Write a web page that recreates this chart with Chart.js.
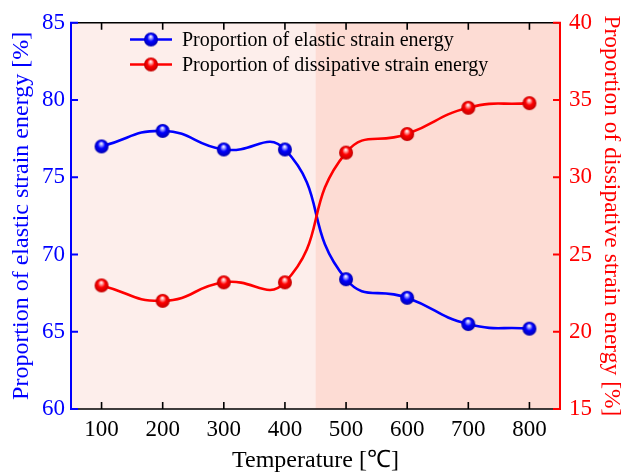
<!DOCTYPE html>
<html>
<head>
<meta charset="utf-8">
<script src="https://cdn.jsdelivr.net/npm/chart.js@4/dist/chart.umd.min.js"></script>
<style>
  html, body { margin: 0; padding: 0; background: #ffffff; }
  canvas { display: block; }
</style>
</head>
<body>
<canvas id="c" width="623" height="475"></canvas>
<script>
// ---- Data ----
const temperatures = [100, 200, 300, 400, 500, 600, 700, 800];
const elasticShare = [77.0, 78.0, 76.8, 76.8, 68.4, 67.2, 65.5, 65.2];
const dissipativeShare = [23.0, 22.0, 23.2, 23.2, 31.6, 32.8, 34.5, 34.8];
const leftTicks = [60, 65, 70, 75, 80, 85];
const rightTicks = [15, 20, 25, 30, 35, 40];
const seriesNames = ['Proportion of elastic strain energy', 'Proportion of dissipative strain energy'];
const shadeBands = [[50, 450], [450, 850]];

const BLUE = '#0000ff';
const RED = '#ff0000';
const SERIF = "'Liberation Serif', 'Times New Roman', serif";

function sphere(base, light, dark, r) {
  const s = Math.ceil(r * 2 + 2);
  const cv = document.createElement('canvas');
  cv.width = s; cv.height = s;
  const g = cv.getContext('2d');
  const cx = s / 2, cy = s / 2;
  const grad = g.createRadialGradient(cx - 0.3, cy - r * 0.45, 0.2, cx, cy, r);
  grad.addColorStop(0, '#ffffff');
  grad.addColorStop(0.22, light);
  grad.addColorStop(0.5, base);
  grad.addColorStop(1, dark);
  g.fillStyle = grad;
  g.beginPath(); g.arc(cx, cy, r, 0, Math.PI * 2); g.fill();
  return cv;
}
const blueBall = sphere(BLUE, '#9a9aff', '#0000b0', 7);
const redBall = sphere(RED, '#ff9a9a', '#c00000', 7);

const framePlugin = {
  id: 'frame',
  beforeDatasetsDraw(chart) {
    const {ctx, chartArea: a, scales} = chart;
    const x = scales.x;
    const fills = ['#fdeeeb', '#fddcd4'];
    ctx.save();
    shadeBands.forEach((b, i) => {
      const x0 = x.getPixelForValue(b[0]);
      const x1 = x.getPixelForValue(b[1]);
      ctx.fillStyle = fills[i];
      ctx.fillRect(x0, a.top, x1 - x0, a.bottom - a.top);
    });
    ctx.restore();
  },
  afterDatasetsDraw(chart) {
    const {ctx, chartArea: a, scales} = chart;
    const TL = 7;
    ctx.save();
    ctx.strokeStyle = '#000000';
    ctx.lineWidth = 1.6;
    ctx.beginPath();
    ctx.moveTo(a.left, a.top); ctx.lineTo(a.right, a.top);
    ctx.moveTo(a.left, a.bottom); ctx.lineTo(a.right, a.bottom);
    temperatures.forEach(t => {
      const px = scales.x.getPixelForValue(t);
      ctx.moveTo(px, a.bottom); ctx.lineTo(px, a.bottom - TL);
      ctx.moveTo(px, a.top); ctx.lineTo(px, a.top + TL);
    });
    ctx.stroke();
    ctx.strokeStyle = BLUE;
    ctx.lineWidth = 2;
    ctx.beginPath();
    ctx.moveTo(a.left, a.top - 1); ctx.lineTo(a.left, a.bottom + 1);
    leftTicks.forEach(v => {
      const py = scales.y.getPixelForValue(v);
      ctx.moveTo(a.left, py); ctx.lineTo(a.left + TL, py);
    });
    ctx.stroke();
    ctx.strokeStyle = RED;
    ctx.beginPath();
    ctx.moveTo(a.right, a.top - 1); ctx.lineTo(a.right, a.bottom + 1);
    rightTicks.forEach(v => {
      const py = scales.y1.getPixelForValue(v);
      ctx.moveTo(a.right, py); ctx.lineTo(a.right - TL, py);
    });
    ctx.stroke();
    const rows = [[BLUE, blueBall, 39.5], [RED, redBall, 64.5]];
    ctx.font = '20px ' + SERIF;
    ctx.textBaseline = 'middle';
    ctx.textAlign = 'left';
    rows.forEach((r, i) => {
      ctx.strokeStyle = r[0];
      ctx.lineWidth = 2.5;
      ctx.beginPath(); ctx.moveTo(130, r[2]); ctx.lineTo(172, r[2]); ctx.stroke();
      ctx.drawImage(r[1], 151 - r[1].width / 2, r[2] - r[1].height / 2);
      ctx.fillStyle = '#000000';
      ctx.fillText(seriesNames[i], 182, r[2] + 1);
    });
    ctx.restore();
  }
};

new Chart(document.getElementById('c'), {
  type: 'line',
  data: {
    datasets: [
      {
        label: seriesNames[0],
        data: temperatures.map((t, i) => ({x: t, y: elasticShare[i]})),
        yAxisID: 'y',
        borderColor: BLUE,
        borderWidth: 2.6,
        pointStyle: blueBall,
        tension: 0.5,
        order: 1
      },
      {
        label: seriesNames[1],
        data: temperatures.map((t, i) => ({x: t, y: dissipativeShare[i]})),
        yAxisID: 'y1',
        borderColor: RED,
        borderWidth: 2.6,
        pointStyle: redBall,
        tension: 0.5,
        order: 0
      }
    ]
  },
  options: {
    responsive: false,
    devicePixelRatio: 1,
    animation: false,
    events: [],
    layout: { padding: { top: 18, left: 0, right: 0, bottom: 0 } },
    plugins: { legend: { display: false }, tooltip: { enabled: false } },
    scales: {
      x: {
        type: 'linear',
        min: 50, max: 850,
        afterBuildTicks(s) { s.ticks = temperatures.map(v => ({value: v})); },
        afterFit(s) { s.height = 66; },
        grid: { display: false, drawTicks: false },
        border: { display: false },
        ticks: { color: '#000000', font: { family: SERIF, size: 23 }, padding: 7 },
        title: { display: true, text: 'Temperature [℃]', color: '#000000',
                 font: { family: SERIF, size: 24, lineHeight: 1 }, padding: { top: 0, bottom: 2 } }
      },
      y: {
        position: 'left',
        min: 60, max: 85,
        afterBuildTicks(s) { s.ticks = leftTicks.map(v => ({value: v})); },
        afterFit(s) { s.width = 71; },
        grid: { display: false, drawTicks: false },
        border: { display: false },
        ticks: { color: BLUE, font: { family: SERIF, size: 23 }, padding: 6 },
        title: { display: true, text: 'Proportion of elastic strain energy [%]', color: BLUE,
                 font: { family: SERIF, size: 24, lineHeight: 1 }, padding: { top: 10, bottom: 0 } }
      },
      y1: {
        position: 'right',
        min: 15, max: 40,
        afterBuildTicks(s) { s.ticks = rightTicks.map(v => ({value: v})); },
        afterFit(s) { s.width = 63; },
        grid: { display: false, drawTicks: false },
        border: { display: false },
        ticks: { color: RED, font: { family: SERIF, size: 23 }, padding: 9 },
        title: { display: true, text: 'Proportion of dissipative strain energy [%]', color: RED,
                 font: { family: SERIF, size: 23.5, lineHeight: 1 }, padding: { top: 0, bottom: 0 } }
      }
    }
  },
  plugins: [framePlugin]
});
</script>
</body>
</html>
